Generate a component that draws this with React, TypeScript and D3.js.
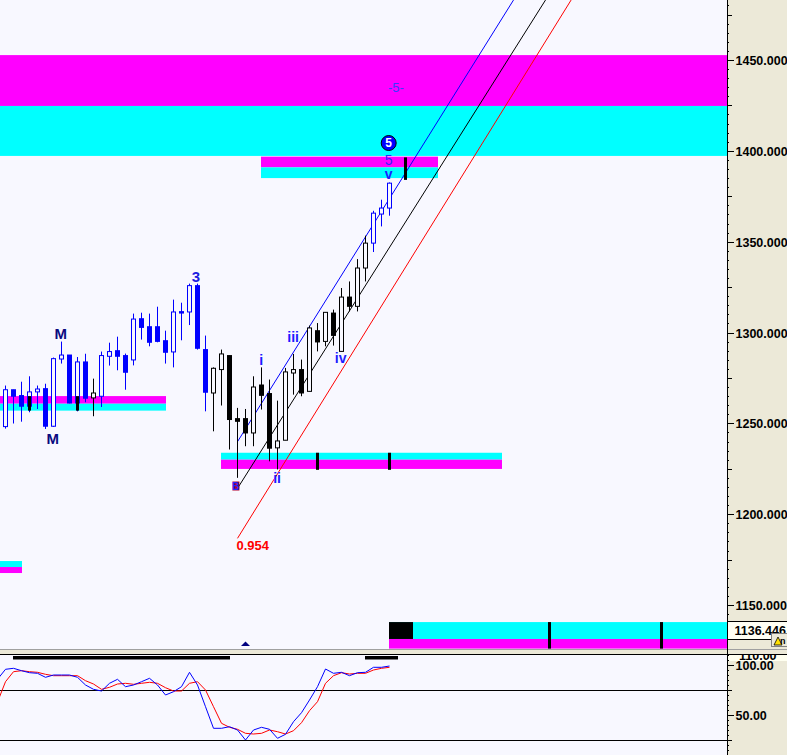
import React from 'react';
import * as d3 from 'd3';

const W = 787;
const H = 755;
const PLOT_R = 727;
const PRICE_BOTTOM = 649;
const BG = '#F8F8FF';
const AXIS_BG = '#ECE9D8';
const CYAN = '#00FFFF';
const MAGENTA = '#FF00FF';

// ---- candles (index 0..48) ----
const opens = [1248.2, 1268.5, 1265.3, 1259.4, 1267.3, 1269.1, 1248.4, 1285.4, 1287.6, 1261.2, 1283.8, 1264.0, 1264.9, 1286.9, 1290.0, 1287.3, 1284.9, 1307.6, 1303.2, 1303.2, 1295.5, 1289.3, 1311.5, 1311.3, 1325.8, 1290.6, 1266.7, 1279.6, 1287.3, 1252.6, 1252.6, 1244.7, 1271.1, 1266.4, 1236.5, 1240.7, 1277.7, 1279.6, 1267.6, 1301.0, 1295.1, 1310.7, 1289.6, 1319.5, 1314.4, 1335.5, 1349.2, 1365.2, 1368.5];
const highs = [1270.8, 1268.5, 1272.9, 1275.9, 1270.8, 1271.8, 1286.2, 1295.0, 1287.6, 1286.5, 1288.3, 1274.6, 1289.5, 1294.4, 1297.7, 1288.4, 1310.4, 1310.9, 1310.4, 1314.2, 1301.0, 1318.1, 1316.4, 1326.9, 1326.9, 1298.3, 1280.8, 1290.6, 1287.3, 1258.5, 1257.9, 1275.9, 1280.8, 1274.1, 1262.5, 1280.5, 1288.2, 1285.1, 1303.8, 1305.2, 1311.1, 1312.6, 1324.5, 1328.1, 1340.4, 1353.3, 1367.0, 1373.1, 1382.6];
const lows = [1247.1, 1249.9, 1250.9, 1256.1, 1257.9, 1246.9, 1248.0, 1282.9, 1261.0, 1256.6, 1261.6, 1253.9, 1259.0, 1281.8, 1279.2, 1268.5, 1281.9, 1296.1, 1292.4, 1294.6, 1282.9, 1280.8, 1295.7, 1304.1, 1290.6, 1256.6, 1245.6, 1259.8, 1235.6, 1220.0, 1237.4, 1237.4, 1257.6, 1229.1, 1224.6, 1240.7, 1265.8, 1264.9, 1267.4, 1289.6, 1292.4, 1292.8, 1289.6, 1311.6, 1311.6, 1328.1, 1344.3, 1358.4, 1364.3];
const closes = [1268.5, 1264.9, 1259.4, 1267.3, 1268.9, 1248.4, 1285.6, 1287.6, 1261.2, 1283.8, 1263.8, 1266.7, 1287.3, 1289.5, 1286.9, 1278.1, 1307.4, 1302.8, 1294.6, 1295.1, 1289.1, 1311.3, 1310.7, 1325.8, 1291.3, 1267.1, 1280.3, 1288.2, 1252.1, 1251.1, 1244.7, 1270.0, 1265.4, 1236.3, 1240.3, 1278.3, 1279.6, 1266.7, 1302.5, 1294.8, 1311.1, 1298.4, 1319.5, 1314.4, 1335.5, 1349.2, 1365.7, 1368.5, 1382.2];
const candleColors = ['b','b','b','b','b','b','b','b','b','b','b','k','b','b','b','b','b','b','b','b','b','b','b','b','b','b','k','k','k','k','k','k','k','k','k','k','k','k','k','k','k','k','k','k','k','k','b','b','b'];

// ---- oscillator (index -1..48) ----
const oscStart = -1;
const oscBlue = [85.7, 95.7, 96.7, 94.3, 92.3, 91.7, 87.7, 90, 90, 90, 87.7, 80, 75.7, 74, 81.7, 85.7, 78.3, 80, 83.3, 86.7, 80, 70, 73.3, 78.3, 92.7, 80, 58.3, 36.7, 36.7, 38.3, 35, 25, 35, 37.7, 35.7, 26.7, 30.7, 43.3, 52.3, 65, 78.3, 96, 91.7, 92.7, 89.3, 92.3, 92.7, 97.7, 97.7, 99];
const oscRed = [63, 83.3, 93.3, 94.3, 93.3, 92.7, 90.7, 89.3, 89.3, 89.3, 89.3, 84.3, 81, 75.7, 77.7, 81, 81.7, 80.7, 81.7, 82.7, 81.7, 77.3, 74, 74, 81.7, 83.3, 75, 58.3, 41.7, 37.7, 35.7, 31.7, 31, 31.7, 35, 33.3, 31, 34.3, 42.3, 54.3, 63.3, 81.7, 89.3, 92.3, 91, 91.7, 91.7, 95, 96.7, 97.7];
const oscLevels = [75, 25];
const oscSignalBars = [[1, 28], [45, 49]];

// ---- axis ticks ----
const priceTicks = [1150, 1200, 1250, 1300, 1350, 1400, 1450];
const oscTicks = [50, 100];
const oscTopLabel = 110;
const lastPrice = 1136.446;

// ---- zones ----
const zoneStarts = [-2, 32, -2, 27, -2, 48];
const zoneEnds = [100, 54, 20, 62, 2, 100];
const zoneTops = [1452.7, 1396.8, 1265.0, 1233.8, 1174.2, 1140.6];
const zoneSplits = [1424.7, 1390.9, 1260.8, 1230.0, 1170.9, 1131.3];
const zoneBottoms = [1397.2, 1385.0, 1257.0, 1224.9, 1167.6, 1126.0];
const zoneUpperIsMagenta = [true, true, true, false, false, false];

// ---- black markers ----
const markerIdx = [3, 9, 39, 48, 50, 68, 82];
const markerTop = [1265.0, 1265.0, 1233.8, 1233.8, 1396.4, 1140.6, 1140.6];
const markerBottom = [1257.0, 1257.0, 1224.4, 1224.4, 1384.0, 1126.0, 1126.0];
const blockIdx = [48, 51];
const blockRange = [1140.6, 1131.3];

// ---- channel lines: two points each ----
const channelColors = ['#0000FF', '#000000', '#FF0000'];
const channelFrom = [[29, 1239.9], [29, 1214.2], [29, 1186.7]];
const channelTo = [[63.5, 1483], [67.5, 1483], [70.7, 1483]];

// ---- annotations ----
const labelTexts = ['M', 'M', '3', 'i', 'iii', 'ii', 'iv', 'v', '5', '-5-', '0.954'];
const labelIdx = [6.9, 5.9, 23.8, 31.95, 35.95, 33.95, 41.9, 47.9, 47.9, 48.8, 30.9];
const labelPrice = [1299.2, 1241.6, 1330.8, 1284.9, 1297.5, 1219.9, 1286.2, 1387.2, 1394.9, 1435.1, 1182.5];
const labelColor = ['#0A0A80', '#0A0A80', '#1C1CE0', '#1C1CFF', '#1C1CFF', '#1C1CFF', '#1C1CFF', '#1C1CFF', '#2A2AFF', '#3A3AFF', '#FF0000'];
const labelSize = [15, 15, 15, 14, 14, 14, 14, 14, 14, 13, 13];
const labelWeight = ['bold', 'bold', 'bold', 'bold', 'bold', 'bold', 'bold', 'bold', 'normal', 'normal', 'bold'];
const circleLabel = { text: '5', idx: 47.9, price: 1404.3 };
const bLabel = { text: 'B', idx: 28.8, price: 1215.5 };

const x = d3.scaleLinear().domain([0, 48]).range([5.5, 389.5]);
const y = d3.scaleLinear().domain([1150, 1450]).range([605, 60]);
const yo = d3.scaleLinear().domain([0, 110]).range([765, 655]);

const FONT = "'Liberation Sans', Arial, Helvetica, sans-serif";

export default function App() {
  const oscLine = d3
    .line<number>()
    .x((_, k) => x(oscStart + k))
    .y((v) => yo(v));

  const minorPrice = d3.range(1140, 1490, 5);
  const minorOsc = d3.range(0, 115, 5);
  const bx = x(bLabel.idx);
  const by = y(bLabel.price);

  return (
    <svg
      width={W}
      height={H}
      viewBox={`0 0 ${W} ${H}`}
      style={{ position: 'absolute', left: 0, top: 0, display: 'block' }}
      fontFamily={FONT}
    >
      <defs>
        <clipPath id="pc">
          <rect x={0} y={0} width={PLOT_R} height={PRICE_BOTTOM} />
        </clipPath>
        <clipPath id="oc">
          <rect x={0} y={655} width={PLOT_R} height={100} />
        </clipPath>
        <clipPath id="ax">
          <rect x={728} y={0} width={59} height={PRICE_BOTTOM} />
        </clipPath>
        <clipPath id="axo">
          <rect x={728} y={655} width={59} height={100} />
        </clipPath>
      </defs>
      <rect x={0} y={0} width={W} height={H} fill={BG} />

      {/* price panel */}
      <g clipPath="url(#pc)">
        {zoneStarts.map((s, z) => {
          const x0 = Math.max(0, x(s) - 0.5);
          const x1 = x(zoneEnds[z]) + 0.5;
          const upper = zoneUpperIsMagenta[z] ? MAGENTA : CYAN;
          const lower = zoneUpperIsMagenta[z] ? CYAN : MAGENTA;
          return (
            <g key={'z' + z}>
              <rect x={x0} width={x1 - x0} y={y(zoneTops[z])} height={y(zoneSplits[z]) - y(zoneTops[z])} fill={upper} />
              <rect x={x0} width={x1 - x0} y={y(zoneSplits[z])} height={y(zoneBottoms[z]) - y(zoneSplits[z])} fill={lower} />
            </g>
          );
        })}
        <rect
          x={x(blockIdx[0]) - 0.5}
          width={x(blockIdx[1]) - x(blockIdx[0])}
          y={y(blockRange[0])}
          height={y(blockRange[1]) - y(blockRange[0])}
          fill="#000"
        />

        {channelColors.map((c, k) => (
          <line
            key={'ch' + k}
            x1={x(channelFrom[k][0])}
            y1={y(channelFrom[k][1])}
            x2={x(channelTo[k][0])}
            y2={y(channelTo[k][1])}
            stroke={c}
            strokeWidth={1}
          />
        ))}

        {opens.map((o, i) => {
          const c = closes[i];
          const col = candleColors[i] === 'b' ? '#0000FF' : '#000000';
          const cx = x(i);
          const top = y(Math.max(o, c));
          const bot = y(Math.min(o, c));
          const up = c >= o;
          const hgt = Math.max(1, bot - top);
          return (
            <g key={'c' + i}>
              <line x1={cx} x2={cx} y1={y(highs[i])} y2={y(lows[i])} stroke={col} strokeWidth={1} />
              {up ? (
                <rect x={cx - 2} y={top} width={4} height={hgt} fill={BG} stroke={col} strokeWidth={1} />
              ) : (
                <rect x={cx - 2.5} y={top - 0.5} width={5} height={hgt + 1} fill={col} />
              )}
            </g>
          );
        })}

        {markerIdx.map((m, k) => (
          <rect
            key={'m' + k}
            x={x(m) - 1.5}
            width={3}
            y={y(markerTop[k])}
            height={y(markerBottom[k]) - y(markerTop[k])}
            fill="#000"
          />
        ))}

        {labelTexts.map((t, k) => (
          <text
            key={'l' + k}
            x={x(labelIdx[k])}
            y={y(labelPrice[k])}
            textAnchor="middle"
            dominantBaseline="central"
            fill={labelColor[k]}
            fontSize={labelSize[k]}
            fontWeight={labelWeight[k]}
          >
            {t}
          </text>
        ))}

        <rect x={bx - 3.5} y={by - 4.5} width={7} height={9} fill="#B00030" />
        <text
          x={bx}
          y={by}
          textAnchor="middle"
          dominantBaseline="central"
          fill="#2020FF"
          fontSize={10}
          fontWeight="bold"
        >
          {bLabel.text}
        </text>

        <circle
          cx={x(circleLabel.idx)}
          cy={y(circleLabel.price)}
          r={7.5}
          fill="#0000FF"
          stroke="#000"
          strokeWidth={1}
        />
        <text
          x={x(circleLabel.idx)}
          y={y(circleLabel.price)}
          textAnchor="middle"
          dominantBaseline="central"
          fill="#fff"
          fontSize={12}
          fontWeight="bold"
        >
          {circleLabel.text}
        </text>

        <path
          d={`M${x(30) - 4.5},646 L${x(30)},641.5 L${x(30) + 4.5},646 Z`}
          fill="#000080"
        />
      </g>

      {/* separator between panels */}
      <rect x={0} y={649} width={W} height={5} fill={AXIS_BG} />
      <line x1={0} x2={W} y1={649.5} y2={649.5} stroke="#A0A0A0" />
      <line x1={0} x2={W} y1={654.5} y2={654.5} stroke="#000" />

      {/* oscillator panel */}
      <g clipPath="url(#oc)">
        {oscLevels.map((v) => (
          <line key={'lv' + v} x1={0} x2={PLOT_R} y1={Math.round(yo(v)) + 0.5} y2={Math.round(yo(v)) + 0.5} stroke="#000" />
        ))}
        {oscSignalBars.map((b, k) => (
          <rect key={'sb' + k} x={x(b[0]) - 0.5} width={x(b[1]) - x(b[0]) + 1} y={656} height={3.5} fill="#000" />
        ))}
        <path d={oscLine(oscRed) || ''} fill="none" stroke="#FF0000" strokeWidth={1} />
        <path d={oscLine(oscBlue) || ''} fill="none" stroke="#0000FF" strokeWidth={1} />
      </g>

      {/* right axis */}
      <rect x={727} y={0} width={60} height={649} fill={AXIS_BG} />
      <rect x={727} y={655} width={60} height={100} fill={AXIS_BG} />
      <line x1={727.5} x2={727.5} y1={0} y2={H} stroke="#000" />

      <g clipPath="url(#ax)">
        {minorPrice.map((v) => {
          const yy = Math.round(y(v));
          const isMid = v % 25 === 0 && v % 50 !== 0;
          const isMajor = v % 50 === 0;
          if (isMajor) return null;
          return isMid ? (
            <line key={'mp' + v} x1={728} x2={732} y1={yy + 0.5} y2={yy + 0.5} stroke="#000" />
          ) : (
            <rect key={'mp' + v} x={728} y={yy} width={1} height={1} fill="#000" />
          );
        })}
        {priceTicks.map((v) => {
          const yy = Math.round(y(v));
          return (
            <g key={'pt' + v}>
              <line x1={728} x2={734} y1={yy + 0.5} y2={yy + 0.5} stroke="#000" />
              <text x={735.5} y={yy + 4.5} fontSize={12.5} fontWeight="bold" fill="#000">
                {v.toFixed(3)}
              </text>
            </g>
          );
        })}
        <rect x={727.5} y={621.5} width={60} height={18} fill="#FFFFF4" stroke="#000" />
        <text x={734.5} y={635} fontSize={12.5} fontWeight="bold" fill="#000">
          {lastPrice.toFixed(3)}
        </text>
        <rect x={771.5} y={633.5} width={16} height={13} fill={AXIS_BG} stroke="#808080" />
        <path d="M774,645 L778,637 L782,645 Z" fill="#FFE000" stroke="#000" strokeWidth={0.8} />
        <text x={780} y={644} fontSize={9} fontWeight="bold" fill="#000">n</text>
      </g>

      <g clipPath="url(#axo)">
        <rect x={728} y={655} width={59} height={6} fill="#FFFFF0" />
        {minorOsc.map((v) => {
          const yy = Math.round(yo(v));
          if (v % 50 === 0) return null;
          const isMid = v % 25 === 0;
          return isMid ? (
            <line key={'mo' + v} x1={728} x2={732} y1={yy + 0.5} y2={yy + 0.5} stroke="#000" />
          ) : (
            <rect key={'mo' + v} x={728} y={yy} width={1} height={1} fill="#000" />
          );
        })}
        <text x={739} y={659.5} fontSize={12.5} fontWeight="bold" fill="#000">
          {oscTopLabel.toFixed(2)}
        </text>
        {oscTicks.map((v) => {
          const yy = Math.round(yo(v));
          return (
            <g key={'ot' + v}>
              <line x1={728} x2={734} y1={yy + 0.5} y2={yy + 0.5} stroke="#000" />
              <text x={735.5} y={yy + 4.5} fontSize={12.5} fontWeight="bold" fill="#000">
                {v.toFixed(2)}
              </text>
            </g>
          );
        })}
      </g>
    </svg>
  );
}
